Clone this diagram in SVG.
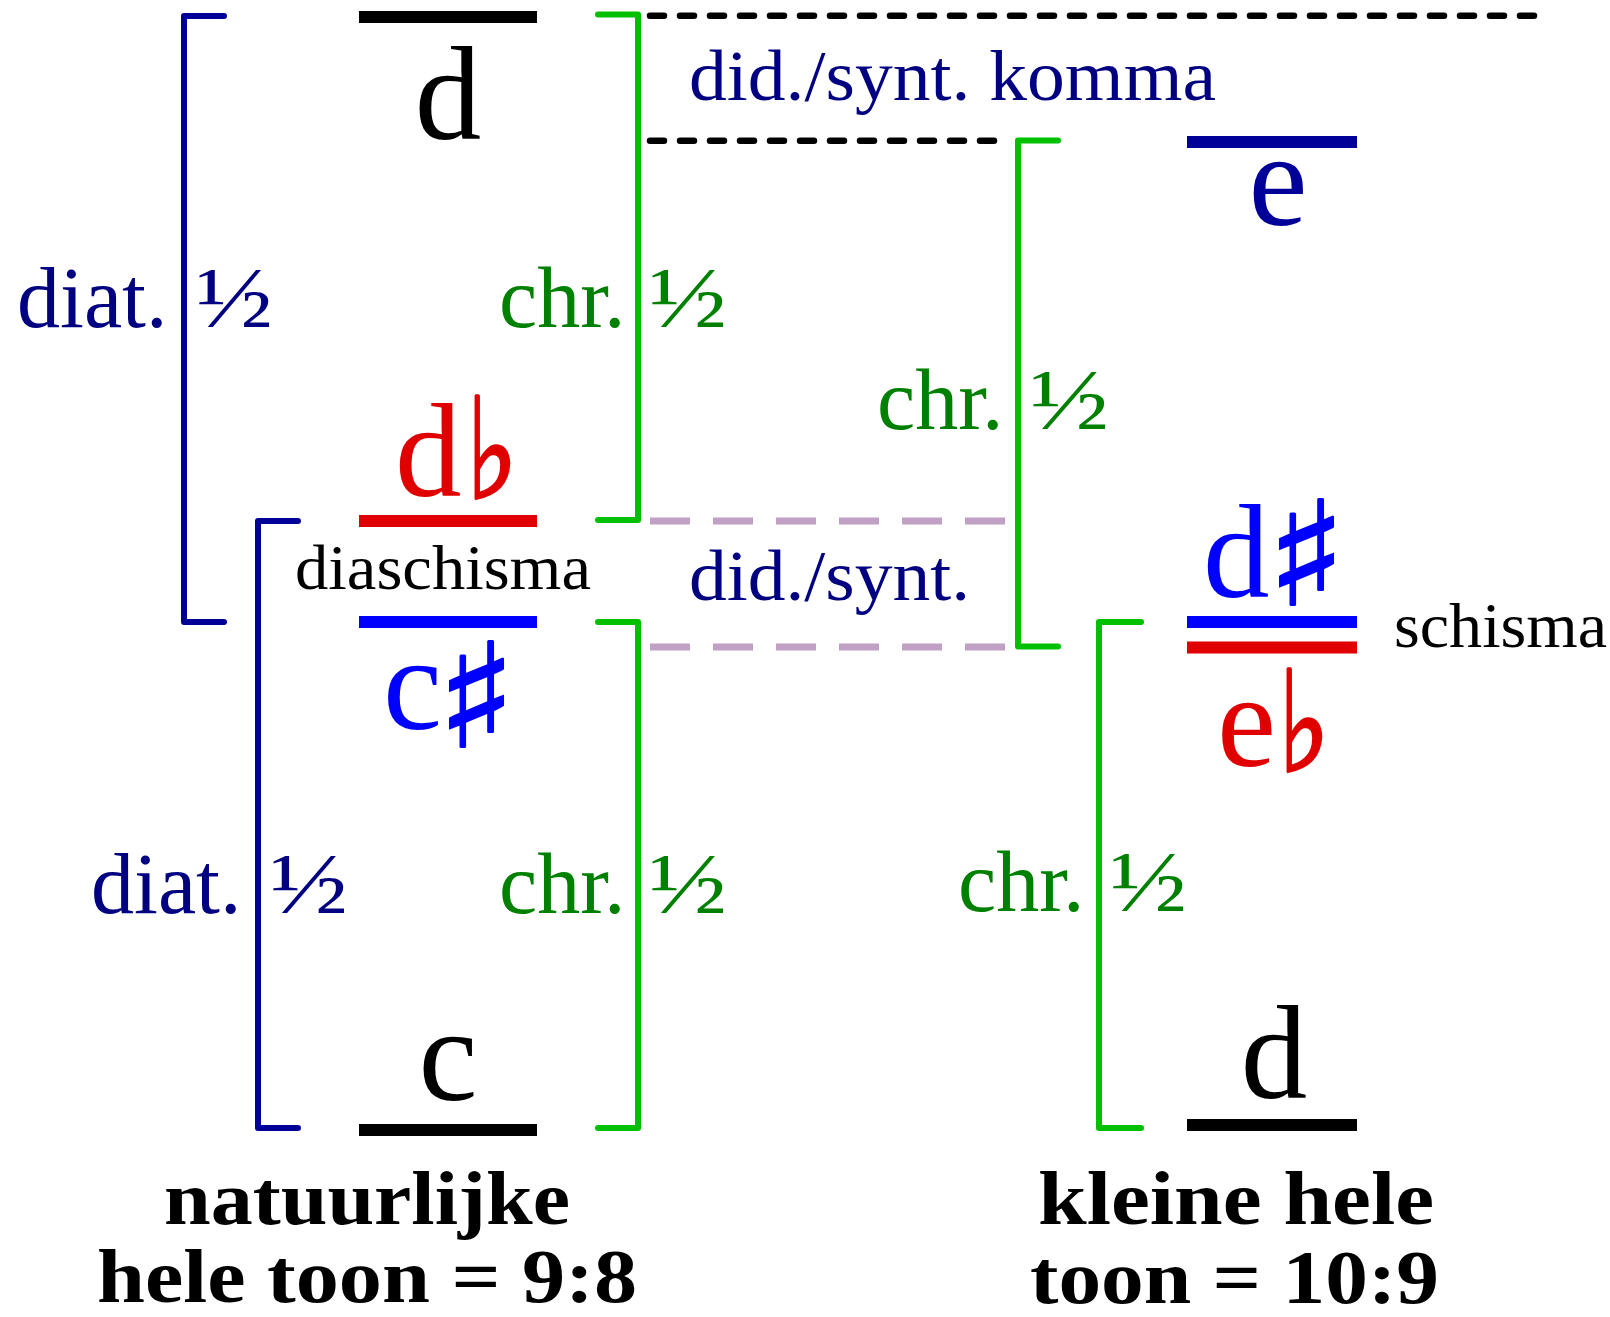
<svg xmlns="http://www.w3.org/2000/svg" width="1610" height="1317" viewBox="0 0 1610 1317">
<style>
.bar{stroke-width:12;fill:none}
.brk{stroke-width:6;fill:none;stroke-linecap:round;stroke-linejoin:round}
.bl{stroke:#000099}
.gr{stroke:#00c000}
.dk{stroke:#000;stroke-width:6.5;stroke-dasharray:14 16;stroke-linecap:round;fill:none}
.li{stroke:#c0a0c4;stroke-width:7;stroke-dasharray:40 23;fill:none}
.note{font-family:"Liberation Serif","Times New Roman",serif;font-size:133px}
.sharp{font-family:"DejaVu Sans",sans-serif;font-size:145px;stroke-width:2}
.flat{font-family:"DejaVu Sans",sans-serif;font-size:140px;stroke-width:3}
.lab{font-family:"Liberation Serif","Times New Roman",serif;font-size:86px}
.small{font-family:"Liberation Serif","Times New Roman",serif;font-size:64px;fill:#000}
.did{font-family:"Liberation Serif","Times New Roman",serif;font-size:72px;fill:#000080}
.bold{font-family:"Liberation Serif","Times New Roman",serif;font-size:76px;font-weight:bold;fill:#000}
.navy{fill:#000080}
.green{fill:#008000}
</style>
<g id="connectors">
<path class="brk bl" d="M224,16 H184 V622 H224"/>
<path class="brk bl" d="M298,521 H258 V1128 H298"/>
<path class="brk gr" d="M598,14.5 H638 V520 H598"/>
<path class="brk gr" d="M598,622 H638 V1128 H598"/>
<path class="brk gr" d="M1058,140.5 H1018 V646.5 H1058"/>
<path class="brk gr" d="M1141,622 H1099 V1128 H1141"/>
<path class="dk" d="M650,15.7 H1536"/>
<path class="dk" d="M650,140.7 H1008"/>
<path class="li" d="M650,521 H1008"/>
<path class="li" d="M650,647 H1008"/>
</g>
<g id="note-d-top">
<line class="bar" stroke="#000" x1="359" y1="17" x2="537" y2="17"/>
<text class="note" x="448" y="139" text-anchor="middle" fill="#000">d</text>
</g>
<g id="note-db">
<line class="bar" stroke="#e00000" x1="359" y1="521" x2="537" y2="521"/>
<text class="note" x="395" y="496" fill="#e00000">d</text>
<text class="flat" x="466" y="498" fill="#e00000" stroke="#e00000" textLength="52" lengthAdjust="spacingAndGlyphs">♭</text>
</g>
<g id="note-csharp">
<line class="bar" stroke="#0000ff" x1="359" y1="622" x2="537" y2="622"/>
<text class="note" x="383" y="729" fill="#0000ff">c</text>
<text class="sharp" x="436" y="747" fill="#0000ff" stroke="#0000ff" textLength="81" lengthAdjust="spacingAndGlyphs">♯</text>
</g>
<g id="note-c">
<line class="bar" stroke="#000" x1="359" y1="1130" x2="537" y2="1130"/>
<text class="note" x="448" y="1100" text-anchor="middle" fill="#000">c</text>
</g>
<g id="note-e">
<line class="bar" stroke="#000099" x1="1187" y1="142" x2="1357" y2="142"/>
<text class="note" x="1278" y="225" text-anchor="middle" fill="#000099">e</text>
</g>
<g id="note-dsharp">
<line class="bar" stroke="#0000ff" x1="1187" y1="622" x2="1357" y2="622"/>
<text class="note" x="1203" y="597" fill="#0000ff">d</text>
<text class="sharp" x="1266" y="605" fill="#0000ff" stroke="#0000ff" textLength="81" lengthAdjust="spacingAndGlyphs">♯</text>
</g>
<g id="note-eb">
<line class="bar" stroke="#e00000" x1="1187" y1="647.5" x2="1357" y2="647.5"/>
<text class="note" x="1217" y="766" fill="#e00000">e</text>
<text class="flat" x="1278" y="771" fill="#e00000" stroke="#e00000" textLength="52" lengthAdjust="spacingAndGlyphs">♭</text>
</g>
<g id="note-d-low">
<line class="bar" stroke="#000" x1="1187" y1="1125" x2="1357" y2="1125"/>
<text class="note" x="1274" y="1098" text-anchor="middle" fill="#000">d</text>
</g>
<g id="labels">
<text class="lab navy" x="17" y="327">diat.</text>
<text class="lab navy" x="196" y="327" textLength="77" lengthAdjust="spacingAndGlyphs">½</text>
<text class="lab green" x="499" y="327">chr.</text>
<text class="lab green" x="649" y="327" textLength="78" lengthAdjust="spacingAndGlyphs">½</text>
<text class="lab navy" x="91" y="913">diat.</text>
<text class="lab navy" x="270" y="913" textLength="78" lengthAdjust="spacingAndGlyphs">½</text>
<text class="lab green" x="499" y="913">chr.</text>
<text class="lab green" x="649" y="913" textLength="78" lengthAdjust="spacingAndGlyphs">½</text>
<text class="lab green" x="877" y="429">chr.</text>
<text class="lab green" x="1030" y="429" textLength="79" lengthAdjust="spacingAndGlyphs">½</text>
<text class="lab green" x="958" y="911">chr.</text>
<text class="lab green" x="1110" y="911" textLength="77" lengthAdjust="spacingAndGlyphs">½</text>
<text class="did" x="689" y="100" textLength="527" lengthAdjust="spacingAndGlyphs">did./synt. komma</text>
<text class="did" x="689" y="600" textLength="281" lengthAdjust="spacingAndGlyphs">did./synt.</text>
<text class="small" x="295" y="589" textLength="296" lengthAdjust="spacingAndGlyphs">diaschisma</text>
<text class="small" x="1394" y="647" textLength="213" lengthAdjust="spacingAndGlyphs">schisma</text>
<text class="bold" x="164" y="1224" textLength="406" lengthAdjust="spacingAndGlyphs">natuurlijke</text>
<text class="bold" x="97" y="1302" textLength="540" lengthAdjust="spacingAndGlyphs">hele toon = 9:8</text>
<text class="bold" x="1038" y="1224" textLength="396" lengthAdjust="spacingAndGlyphs">kleine hele</text>
<text class="bold" x="1030" y="1303" textLength="409" lengthAdjust="spacingAndGlyphs">toon = 10:9</text>
</g>
</svg>
